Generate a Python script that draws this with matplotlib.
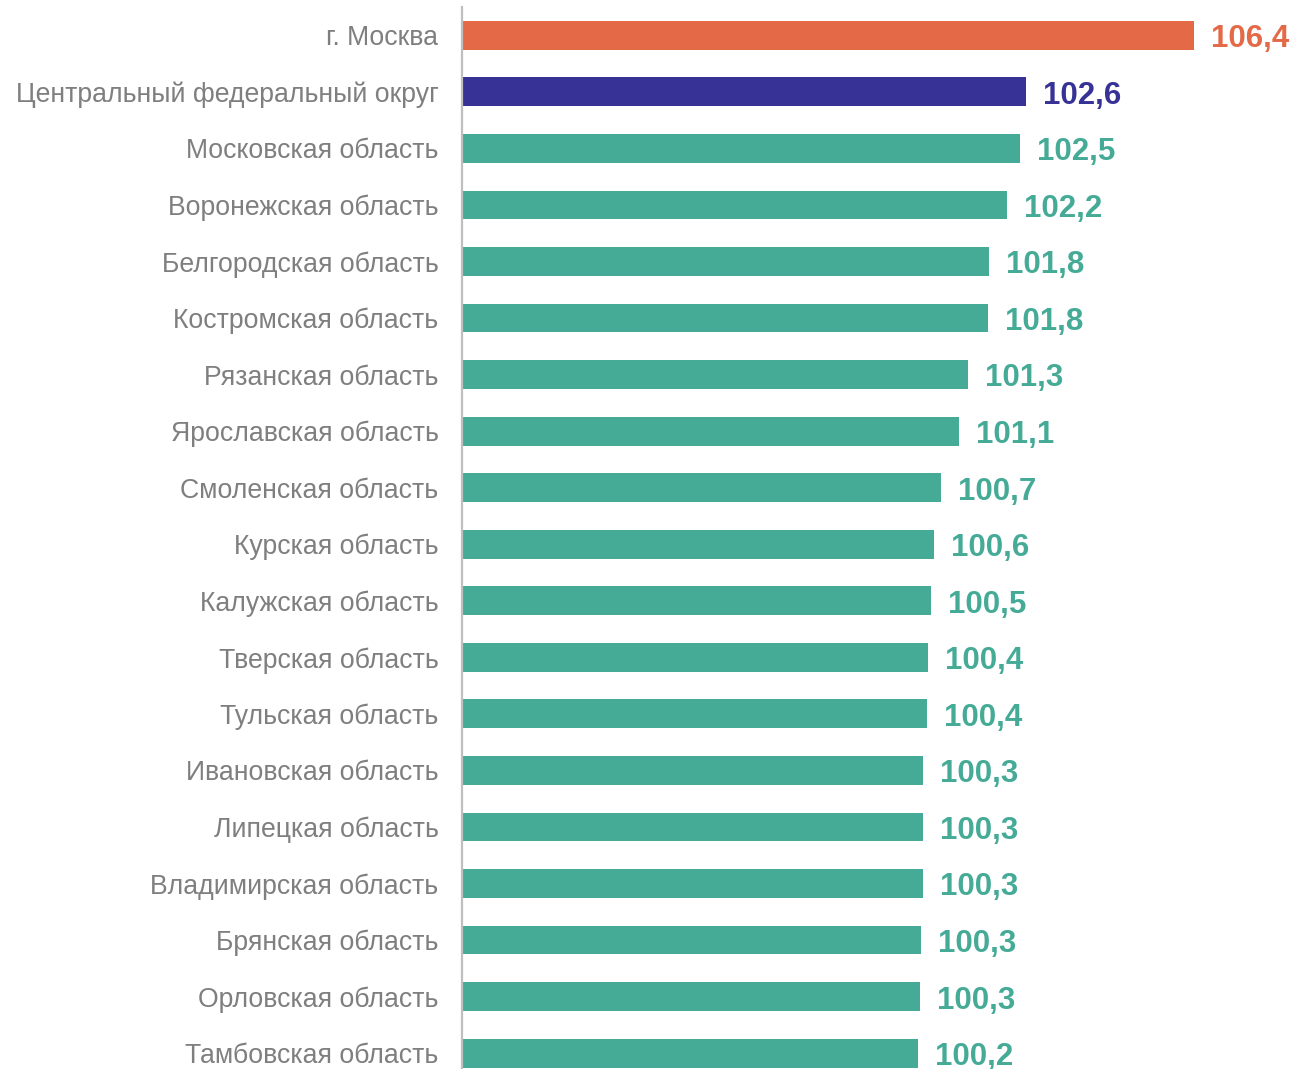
import matplotlib
matplotlib.use("Agg")
import matplotlib.pyplot as plt
from matplotlib.transforms import offset_copy

plt.rcParams['font.family'] = ['Liberation Sans', 'DejaVu Sans']

regions = [
    "г. Москва",
    "Центральный федеральный округ",
    "Московская область",
    "Воронежская область",
    "Белгородская область",
    "Костромская область",
    "Рязанская область",
    "Ярославская область",
    "Смоленская область",
    "Курская область",
    "Калужская область",
    "Тверская область",
    "Тульская область",
    "Ивановская область",
    "Липецкая область",
    "Владимирская область",
    "Брянская область",
    "Орловская область",
    "Тамбовская область",
]
values = [106.38, 102.62, 102.48, 102.19, 101.79, 101.77, 101.32, 101.12, 100.72,
          100.56, 100.49, 100.43, 100.40, 100.31, 100.31, 100.31, 100.27, 100.25, 100.20]
value_labels = ["106,4", "102,6", "102,5", "102,2", "101,8", "101,8", "101,3", "101,1", "100,7",
                "100,6", "100,5", "100,4", "100,4", "100,3", "100,3", "100,3", "100,3", "100,3", "100,2"]

ORANGE = "#E36947"
BLUE = "#373296"
TEAL = "#45AB97"
colors = [ORANGE, BLUE] + [TEAL] * (len(regions) - 2)

W, H = 1294, 1069
fig = plt.figure(figsize=(W / 100, H / 100), dpi=100)
left_px, right_px, top_px, bottom_px = 462, 1294, 7, 1069
ax = fig.add_axes([left_px / W, 1 - bottom_px / H, (right_px - left_px) / W, (bottom_px - top_px) / H])

y = list(range(len(regions)))
ax.barh(y, [v - 90 for v in values], left=90, height=0.51, color=colors, zorder=2)

ax.set_xlim(90, 90 + (right_px - left_px) / 44.7)
ax.set_ylim(18.28, -0.5)

ax.set_yticks(y)
ax.set_yticklabels(regions, fontsize=19.2, color="#7F7F7F")
ax.tick_params(axis='y', length=0, pad=17)
ax.set_xticks([])

for s in ['top', 'right', 'bottom']:
    ax.spines[s].set_visible(False)
ax.spines['left'].set_color("#BFBFBF")
ax.spines['left'].set_linewidth(1.6)

for yi, v, lab, c in zip(y, values, value_labels, colors):
    tr = offset_copy(ax.transData, fig=fig, x=12, y=-2.8, units='points')
    ax.text(v, yi, lab, transform=tr, ha='left', va='center', fontsize=22.5,
            fontweight='bold', color=c, clip_on=False)

fig.savefig("out.png", dpi=100)
